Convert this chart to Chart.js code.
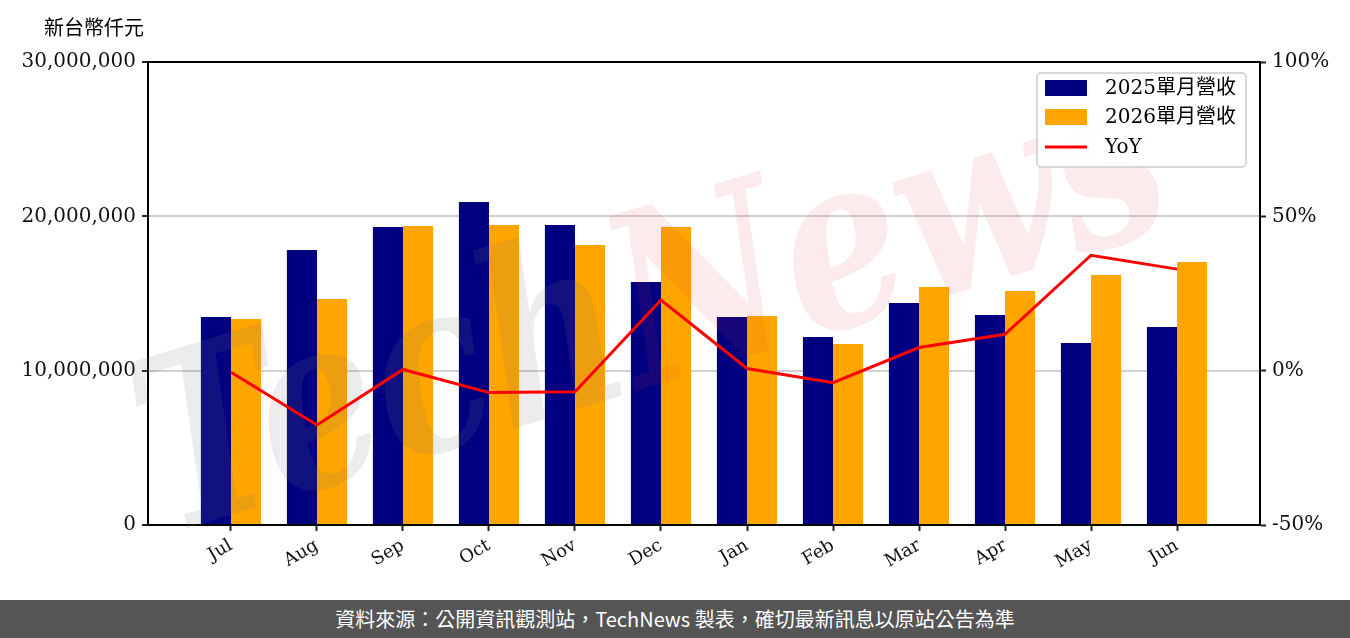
<!DOCTYPE html>
<html>
<head>
<meta charset="utf-8">
<script src="https://cdn.jsdelivr.net/npm/chart.js@4"></script>
<style>
  body { margin: 0; background: #fff; }
  #wrap { position: relative; width: 1350px; height: 600px; }
  #footer {
    width: 1350px; height: 38px; background: #555555; color: #fff;
    font-family: "Noto Sans CJK TC", "Noto Sans", sans-serif; font-size: 20px;
    line-height: 38px; text-align: center;
  }
</style>
</head>
<body>
<div id="wrap"><canvas id="revChart"></canvas></div>
<div id="footer">資料來源：公開資訊觀測站，TechNews 製表，確切最新訊息以原站公告為準</div>
<script>
const months = ["Jul", "Aug", "Sep", "Oct", "Nov", "Dec", "Jan", "Feb", "Mar", "Apr", "May", "Jun"];
const rev2025 = [13480000, 17820000, 19310000, 20930000, 19440000, 15750000, 13480000, 12180000, 14390000, 13610000, 11790000, 12830000];
const rev2026 = [13350000, 14650000, 19370000, 19440000, 18140000, 19310000, 13540000, 11730000, 15420000, 15160000, 16200000, 17040000];
const yoyPct = [-0.5, -17.6, 0.4, -7.1, -6.8, 22.9, 0.7, -3.9, 7.5, 11.8, 37.4, 32.9];
const leftTicks = [0, 10000000, 20000000, 30000000];
const rightTicks = [-50, 0, 50, 100];

const serif = "'DejaVu Serif', 'Noto Sans CJK TC', serif";
const cjk = "'Noto Sans CJK TC', sans-serif";

// extra drawing: title, top spine, legend box, watermark
const decorPlugin = {
  id: "decor",
  beforeDatasetDraw(chart, args) {
    if (args.index !== 2) return;
    const ctx = chart.ctx;
    ctx.save();
    ctx.translate(655, 320);
    ctx.rotate(-17 * Math.PI / 180);
    ctx.font = "italic bold 240px 'DejaVu Serif', serif";
    ctx.textBaseline = "middle";
    const wT = ctx.measureText("Tech").width;
    const wN = ctx.measureText("News").width;
    const sx = 1060 / (wT + wN);
    ctx.scale(sx, 1);
    const x0 = -(wT + wN) / 2;
    ctx.fillStyle = "rgba(120,120,120,0.14)";
    ctx.fillText("Tech", x0, 0);
    ctx.fillStyle = "rgba(215,60,70,0.10)";
    ctx.fillText("News", x0 + wT, 0);
    ctx.restore();
  },
  afterDraw(chart) {
    const ctx = chart.ctx;
    const a = chart.chartArea;
    ctx.save();
    // top spine
    ctx.strokeStyle = "#000";
    ctx.lineWidth = 2;
    ctx.beginPath();
    ctx.moveTo(a.left - 1, a.top);
    ctx.lineTo(a.right + 1, a.top);
    ctx.stroke();

    // unit title
    ctx.fillStyle = "#000";
    ctx.font = "20px " + cjk;
    ctx.textBaseline = "middle";
    ctx.fillText("新台幣仟元", 44, 27);

    // legend
    const bx = 1037, by = 73, bw = 209, bh = 94, r = 4;
    ctx.fillStyle = "rgba(255,255,255,0.85)";
    ctx.strokeStyle = "#cccccc";
    ctx.lineWidth = 1.5;
    ctx.beginPath();
    ctx.roundRect(bx, by, bw, bh, r);
    ctx.fill();
    ctx.stroke();

    const items = chart.data.datasets;
    const rows = [88, 117, 147];
    ctx.font = "20px " + serif;
    items.forEach((ds, i) => {
      const y = rows[i];
      if (ds.type === "line") {
        ctx.strokeStyle = ds.borderColor;
        ctx.lineWidth = 3;
        ctx.beginPath();
        ctx.moveTo(1045, y);
        ctx.lineTo(1087, y);
        ctx.stroke();
      } else {
        ctx.fillStyle = ds.backgroundColor;
        ctx.fillRect(1045, y - 8, 42, 16);
      }
      ctx.fillStyle = "#000";
      ctx.textBaseline = "middle";
      ctx.fillText(ds.label, 1105, y + 1);
    });
    ctx.restore();
  }
};

const ctx = document.getElementById("revChart").getContext("2d");
new Chart(ctx, {
  type: "bar",
  data: {
    datasets: [
      {
        label: "2025單月營收",
        data: rev2025.map((v, i) => ({ x: i, y: v })),
        backgroundColor: "#000080",
        yAxisID: "y",
        order: 1,
        categoryPercentage: 0.7,
        barPercentage: 1.0,
      },
      {
        label: "2026單月營收",
        data: rev2026.map((v, i) => ({ x: i, y: v })),
        backgroundColor: "#FFA500",
        yAxisID: "y",
        order: 1,
        categoryPercentage: 0.7,
        barPercentage: 1.0,
      },
      {
        type: "line",
        label: "YoY",
        data: yoyPct.map((v, i) => ({ x: i, y: v })),
        borderColor: "#FF0000",
        borderWidth: 3,
        pointRadius: 0,
        tension: 0,
        yAxisID: "y1",
        order: 0,
      },
    ],
  },
  options: {
    responsive: true,
    maintainAspectRatio: false,
    animation: false,
    layout: { padding: { left: 0, right: 0, top: 62, bottom: 0 } },
    plugins: {
      legend: { display: false },
      tooltip: { enabled: false },
    },
    scales: {
      x: {
        type: "linear",
        offset: false,
        min: -0.965,
        max: 11.965,
        afterBuildTicks: (s) => { s.ticks = months.map((_, i) => ({ value: i })); },
        afterFit: (s) => { s.height = 75; },
        grid: { offset: false, drawOnChartArea: false, drawTicks: true, tickLength: 6, tickWidth: 2, tickColor: "#222" },
        border: { display: true, color: "#000", width: 2 },
        ticks: {
          autoSkip: false,
          minRotation: 30,
          maxRotation: 30,
          padding: 4,
          color: "#111",
          font: { family: serif, size: 18 },
          callback: (v) => months[v] ?? "",
        },
      },
      y: {
        position: "left",
        min: 0,
        max: 30000000,
        afterBuildTicks: (s) => { s.ticks = leftTicks.map((v) => ({ value: v })); },
        afterFit: (s) => { s.width = 148; },
        grid: { color: "#d0d0d0", lineWidth: 2, tickColor: "#222", tickLength: 6, tickWidth: 2 },
        border: { display: true, color: "#000", width: 2 },
        ticks: {
          padding: 6,
          color: "#111",
          font: { family: serif, size: 20 },
          callback: (v) => Number(v).toLocaleString("en-US"),
        },
      },
      y1: {
        position: "right",
        min: -50,
        max: 100,
        afterBuildTicks: (s) => { s.ticks = rightTicks.map((v) => ({ value: v })); },
        afterFit: (s) => { s.width = 90; },
        grid: { drawOnChartArea: false, tickColor: "#222", tickLength: 6, tickWidth: 2 },
        border: { display: true, color: "#000", width: 2 },
        ticks: {
          padding: 6,
          color: "#111",
          font: { family: serif, size: 20 },
          callback: (v) => v + "%",
        },
      },
    },
  },
  plugins: [decorPlugin],
});
</script>
</body>
</html>
